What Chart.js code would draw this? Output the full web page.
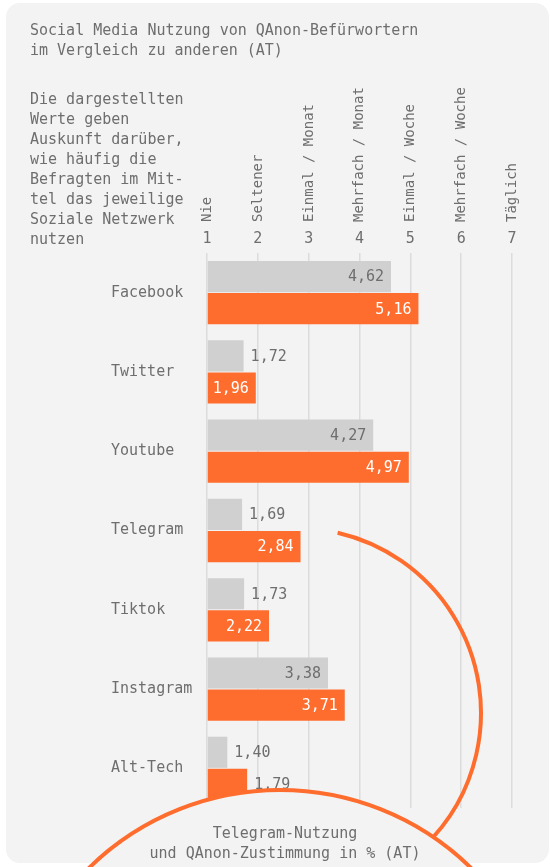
<!DOCTYPE html>
<html lang="de">
<head>
<meta charset="utf-8">
<script src="https://cdn.jsdelivr.net/npm/chart.js@4"></script>
<style>
    body { margin: 0; background: #fff; width: 550px; height: 867px; overflow: hidden; position: relative; font-family: "DejaVu Sans Mono", monospace; color: #6e6e6e; }
    #card { position: absolute; left: 6px; top: 3px; width: 543px; height: 860px; background: #f3f3f3; border-radius: 14px; }
    #chart { position: absolute; left: 0; top: 0; }
    .txt { position: absolute; font-size: 15px; line-height: 20px; white-space: pre; }
    #title { left: 30px; top: 20px; }
    #note { left: 30px; top: 89px; }
    #caption { left: 80px; width: 410px; top: 823px; text-align: center; }
</style>
</head>
<body>
<div id="card"></div>
<canvas id="chart" width="550" height="867"></canvas>
<div class="txt" id="title">Social Media Nutzung von QAnon-Befürwortern
im Vergleich zu anderen (AT)</div>
<div class="txt" id="note">Die dargestellten
Werte geben
Auskunft darüber,
wie häufig die
Befragten im Mit-
tel das jeweilige
Soziale Netzwerk
nutzen</div>
<div class="txt" id="caption">Telegram-Nutzung
und QAnon-Zustimmung in % (AT)</div>
<script>
const networks = ['Facebook', 'Twitter', 'Youtube', 'Telegram', 'Tiktok', 'Instagram', 'Alt-Tech'];
const othersValues = [4.62, 1.72, 4.27, 1.69, 1.73, 3.38, 1.40];
const qanonValues = [5.16, 1.96, 4.97, 2.84, 2.22, 3.71, 1.79];
const frequencyLabels = ['Nie', 'Seltener', 'Einmal / Monat', 'Mehrfach / Monat', 'Einmal / Woche', 'Mehrfach / Woche', 'Täglich'];

const FONT = '"DejaVu Sans Mono", monospace';
const ORANGE = '#ff6d2e';
const GREY_BAR = '#d0d0d0';
const TEXT = '#6e6e6e';

// value labels inside or next to each bar
const valueLabels = {
    id: 'valueLabels',
    afterDatasetsDraw(chart) {
        const ctx = chart.ctx;
        ctx.save();
        ctx.font = '15px ' + FONT;
        ctx.textBaseline = 'middle';
        chart.data.datasets.forEach((ds, i) => {
            chart.getDatasetMeta(i).data.forEach((bar, j) => {
                const text = ds.data[j].toFixed(2).replace('.', ',');
                const w = bar.x - bar.base;
                if (w > 45) {
                    ctx.textAlign = 'right';
                    ctx.fillStyle = i === 1 ? '#ffffff' : TEXT;
                    ctx.fillText(text, bar.x - 7, bar.y + 1);
                } else {
                    ctx.textAlign = 'left';
                    ctx.fillStyle = TEXT;
                    ctx.fillText(text, bar.x + 7, bar.y + 1);
                }
            });
        });
        ctx.restore();
    }
};

// decorative circles leading into the next graphic
const teaserCircles = {
    id: 'teaserCircles',
    afterDraw(chart) {
        const ctx = chart.ctx;
        ctx.save();
        ctx.strokeStyle = ORANGE;
        ctx.lineWidth = 4;
        ctx.beginPath();
        ctx.arc(296, 713, 185, -77 * Math.PI / 180, 80 * Math.PI / 180);
        ctx.stroke();
        ctx.beginPath();
        ctx.arc(280, 1063, 273, 0, Math.PI * 2);
        ctx.fillStyle = '#f3f3f3';
        ctx.fill();
        ctx.stroke();
        ctx.restore();
    }
};

new Chart(document.getElementById('chart'), {
    type: 'bar',
    data: {
        labels: networks,
        datasets: [
            { label: 'Andere', data: othersValues, backgroundColor: GREY_BAR, base: 1 },
            { label: 'QAnon-Befürworter', data: qanonValues, backgroundColor: ORANGE, base: 1 }
        ]
    },
    options: {
        indexAxis: 'y',
        responsive: false,
        animation: false,
        devicePixelRatio: 1,
        categoryPercentage: 0.81,
        barPercentage: 0.97,
        layout: { padding: { left: 111, right: 38, top: 73, bottom: 59 } },
        plugins: { legend: { display: false }, tooltip: { enabled: false } },
        scales: {
            y: {
                ticks: { crossAlign: 'far', padding: 0, color: TEXT, font: { family: FONT, size: 15 } },
                grid: { display: false },
                border: { display: false },
                afterFit: s => { s.width = 96; }
            },
            x: {
                position: 'top',
                min: 1,
                max: 7,
                weight: 0,
                ticks: { stepSize: 1, padding: 5, color: TEXT, font: { family: FONT, size: 15 } },
                grid: { color: '#dcdcdc', lineWidth: 1.5, drawTicks: false },
                border: { display: false },
                afterFit: s => { s.height = 30; }
            },
            x2: {
                position: 'top',
                type: 'linear',
                min: 1,
                max: 7,
                weight: 1,
                ticks: {
                    stepSize: 1,
                    autoSkip: false,
                    minRotation: 90,
                    maxRotation: 90,
                    padding: 1,
                    labelOffset: 17,
                    color: TEXT,
                    font: { family: FONT, size: 14 },
                    callback: v => frequencyLabels[v - 1]
                },
                grid: { display: false, drawTicks: false },
                border: { display: false },
                afterFit: s => { s.height = 150; }
            }
        }
    },
    plugins: [valueLabels, teaserCircles]
});
</script>
</body>
</html>
